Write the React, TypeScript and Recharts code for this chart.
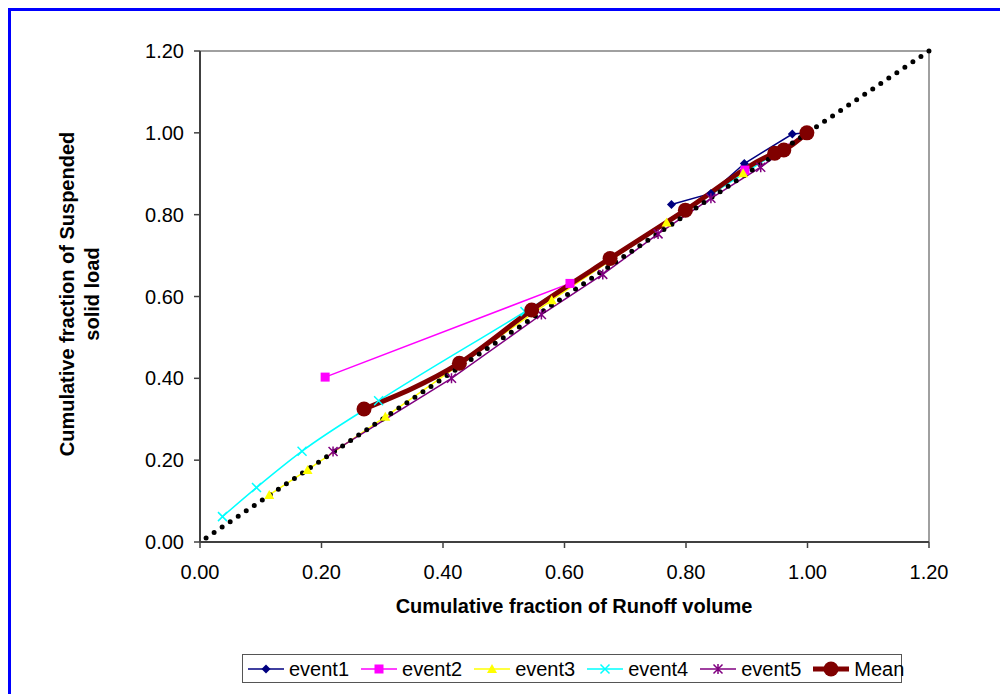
import { LineChart, Line, XAxis, YAxis, ReferenceLine } from 'recharts';

// values
const event1X = [0.776, 0.841, 0.896, 0.975, 1.0];
const event1Y = [0.825, 0.852, 0.925, 0.997, 1.0];
const event2X = [0.206, 0.609, 0.897, 1.0];
const event2Y = [0.403, 0.632, 0.909, 1.0];
const event3X = [0.114, 0.177, 0.305, 0.579, 0.768, 0.894, 1.0];
const event3Y = [0.115, 0.176, 0.306, 0.591, 0.781, 0.901, 1.0];
const event4X = [0.037, 0.093, 0.168, 0.294, 0.535, 1.0];
const event4Y = [0.062, 0.133, 0.222, 0.345, 0.563, 1.0];
const event5X = [0.219, 0.414, 0.562, 0.663, 0.754, 0.841, 0.923, 1.0];
const event5Y = [0.221, 0.4, 0.556, 0.654, 0.753, 0.84, 0.916, 1.0];
const meanX = [0.27, 0.427, 0.546, 0.675, 0.799, 0.946, 0.961, 0.999];
const meanY = [0.325, 0.437, 0.567, 0.693, 0.811, 0.95, 0.958, 1.0];
const diagX = [0.01, 1.2];
const diagY = [0.01, 1.2];
const axisTicks = [0, 0.2, 0.4, 0.6, 0.8, 1.0, 1.2];

const toPoints = (xs: number[], ys: number[]) => xs.map((x, i) => ({ x, y: ys[i] }));

const FONT = '"Liberation Sans", Arial, sans-serif';

type Shape = 'diamond' | 'square' | 'triangle' | 'x' | 'star' | 'circle';

function Marker({ shape, cx, cy, color }: { shape: Shape; cx: number; cy: number; color: string }) {
  if (shape === 'diamond') {
    return <polygon points={`${cx},${cy - 4.5} ${cx + 4.5},${cy} ${cx},${cy + 4.5} ${cx - 4.5},${cy}`} fill={color} />;
  }
  if (shape === 'square') {
    return <rect x={cx - 4.5} y={cy - 4.5} width={9} height={9} fill={color} />;
  }
  if (shape === 'triangle') {
    return <polygon points={`${cx},${cy - 5} ${cx + 5},${cy + 4} ${cx - 5},${cy + 4}`} fill={color} />;
  }
  if (shape === 'x') {
    return (
      <path d={`M${cx - 4.5},${cy - 4.5}L${cx + 4.5},${cy + 4.5}M${cx - 4.5},${cy + 4.5}L${cx + 4.5},${cy - 4.5}`} stroke={color} strokeWidth={1.5} />
    );
  }
  if (shape === 'star') {
    return (
      <path
        d={`M${cx - 4.5},${cy - 4.5}L${cx + 4.5},${cy + 4.5}M${cx - 4.5},${cy + 4.5}L${cx + 4.5},${cy - 4.5}M${cx},${cy - 5}L${cx},${cy + 5}`}
        stroke={color}
        strokeWidth={1.5}
      />
    );
  }
  return <circle cx={cx} cy={cy} r={7.5} fill={color} />;
}

const series = [
  { name: 'event1', data: toPoints(event1X, event1Y), color: '#000080', shape: 'diamond' as Shape, type: 'linear', width: 1.5 },
  { name: 'event2', data: toPoints(event2X, event2Y), color: '#FF00FF', shape: 'square' as Shape, type: 'linear', width: 1.5 },
  { name: 'event3', data: toPoints(event3X, event3Y), color: '#FFFF00', shape: 'triangle' as Shape, type: 'linear', width: 1.5 },
  { name: 'event4', data: toPoints(event4X, event4Y), color: '#00FFFF', shape: 'x' as Shape, type: 'monotone', width: 1.5 },
  { name: 'event5', data: toPoints(event5X, event5Y), color: '#800080', shape: 'star' as Shape, type: 'linear', width: 1.5 },
  { name: 'Mean', data: toPoints(meanX, meanY), color: '#800000', shape: 'circle' as Shape, type: 'monotone', width: 5 },
];

const tickStyle = { fill: '#000', fontSize: 20, fontFamily: FONT };
const axisLineStyle = { stroke: '#404040', strokeWidth: 2 };

export default function App() {
  return (
    <div style={{ position: 'relative', width: 1000, height: 686, overflow: 'hidden', background: '#fff' }}>
      <div
        style={{
          position: 'absolute',
          left: 0,
          top: 0,
          width: 1020,
          height: 710,
          border: '3px solid #0000FF',
          boxSizing: 'border-box',
        }}
      />
      <div style={{ position: 'absolute', left: 0, top: 0 }}>
        <LineChart width={1000} height={686} margin={{ top: 43, right: 79, bottom: 92, left: 0 }}>
          <XAxis
            type="number"
            dataKey="x"
            domain={[0, 1.2]}
            ticks={axisTicks}
            tickFormatter={(v: number) => v.toFixed(2)}
            tick={tickStyle}
            tickSize={6}
            tickMargin={17}
            height={60}
            axisLine={axisLineStyle}
            tickLine={{ stroke: '#404040', strokeWidth: 1.5 }}
            label={{
              content: () => (
                <text x={566} y={605} textAnchor="middle" fontFamily={FONT} fontSize={20} fontWeight="bold" fill="#000">
                  Cumulative fraction of Runoff volume
                </text>
              ),
            }}
          />
          <YAxis
            type="number"
            dataKey="y"
            domain={[0, 1.2]}
            ticks={axisTicks}
            tickFormatter={(v: number) => v.toFixed(2)}
            tick={tickStyle}
            tickSize={6}
            tickMargin={10}
            width={192}
            axisLine={axisLineStyle}
            tickLine={{ stroke: '#404040', strokeWidth: 1.5 }}
            label={{
              content: () => (
                <g fontFamily={FONT} fontSize={20} fontWeight="bold" fill="#000">
                  <text x={66} y={286} textAnchor="middle" transform="rotate(-90, 66, 286)">
                    Cumulative fraction of Suspended
                  </text>
                  <text x={91} y={286} textAnchor="middle" transform="rotate(-90, 91, 286)">
                    solid load
                  </text>
                </g>
              ),
            }}
          />
          <ReferenceLine y={1.2} stroke="#808080" strokeWidth={1.5} />
          <ReferenceLine x={1.2} stroke="#808080" strokeWidth={1.5} />
          {series.map((s) => (
            <Line
              key={s.name}
              data={s.data}
              dataKey="y"
              name={s.name}
              type={s.type as any}
              stroke={s.color}
              strokeWidth={s.width}
              isAnimationActive={false}
              dot={(p: any) => <Marker key={`${s.name}-${p.index}`} shape={s.shape} cx={p.cx} cy={p.cy} color={s.color} />}
              activeDot={false}
            />
          ))}
          <Line
            data={toPoints(diagX, diagY)}
            dataKey="y"
            type="linear"
            stroke="#000"
            strokeWidth={5}
            strokeDasharray="0 9.684"
            strokeLinecap="round"
            dot={false}
            activeDot={false}
            isAnimationActive={false}
          />
        </LineChart>
      </div>
      <div
        style={{
          position: 'absolute',
          left: 234,
          top: 646,
          width: 660,
          height: 29,
          border: '1px solid #555',
          boxSizing: 'border-box',
          display: 'flex',
          alignItems: 'center',
          paddingLeft: 5,
          fontFamily: FONT,
          fontSize: 20,
          color: '#000',
          background: '#fff',
        }}
      >
        {series.map((s) => (
          <div key={s.name} style={{ display: 'flex', alignItems: 'center', marginRight: 12 }}>
            <svg width={36} height={20} style={{ marginRight: 5 }}>
              <line x1={0} y1={10} x2={36} y2={10} stroke={s.color} strokeWidth={s.width} />
              <Marker shape={s.shape} cx={18} cy={10} color={s.color} />
            </svg>
            <span style={{ lineHeight: '20px' }}>{s.name}</span>
          </div>
        ))}
      </div>
    </div>
  );
}
